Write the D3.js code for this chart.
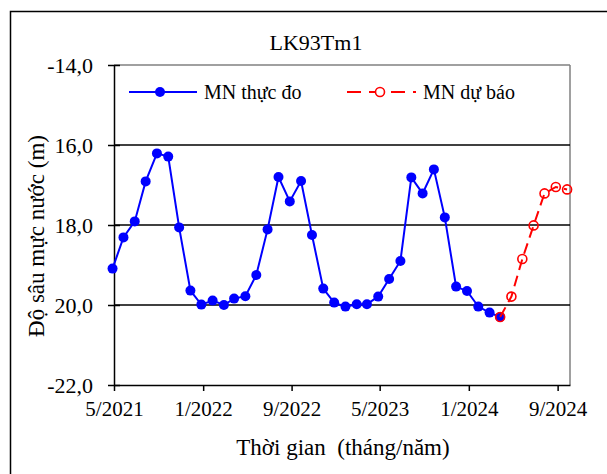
<!DOCTYPE html>
<html>
<head>
<meta charset="utf-8">
<script src="https://cdn.jsdelivr.net/npm/d3@7/dist/d3.min.js"></script>
<style>
  body { margin: 0; background: #fff; }
  svg text { font-family: "Liberation Serif", Tinos, "Times New Roman", "DejaVu Serif", serif; fill: #000; }
</style>
</head>
<body>
<svg id="chart" width="607" height="474"></svg>
<script>
var obsDates = ["2021-04-27", "2021-05-27", "2021-06-27", "2021-07-27", "2021-08-27", "2021-09-27",
    "2021-10-27", "2021-11-27", "2021-12-27", "2022-01-27", "2022-02-27", "2022-03-27",
    "2022-04-27", "2022-05-27", "2022-06-27", "2022-07-27", "2022-08-27", "2022-09-27",
    "2022-10-27", "2022-11-27", "2022-12-27", "2023-01-27", "2023-02-27", "2023-03-27",
    "2023-04-27", "2023-05-27", "2023-06-27", "2023-07-27", "2023-08-27", "2023-09-27",
    "2023-10-27", "2023-11-27", "2023-12-27", "2024-01-27", "2024-02-27", "2024-03-27"];
var obsValues = [19.09, 18.31, 17.91, 16.91, 16.21, 16.29,
    18.06, 19.64, 19.99, 19.89, 20.00, 19.84,
    19.78, 19.25, 18.11, 16.80, 17.41, 16.90,
    18.25, 19.59, 19.94, 20.04, 19.98, 19.98,
    19.79, 19.35, 18.90, 16.81, 17.21, 16.61,
    17.81, 19.54, 19.65, 20.04, 20.19, 20.30];

// forecast
var fcDates = ["2024-03-27", "2024-04-27", "2024-05-27", "2024-06-27", "2024-07-27", "2024-08-27", "2024-09-27"];
var fcValues = [20.30, 19.79, 18.85, 18.01, 17.21, 17.05, 17.11];

var yTicks = [14, 16, 18, 20, 22];
var yTickLabels = ["-14,0", "16,0", "18,0", "20,0", "-22,0"];
var xTicks = ["2021-05-01", "2022-01-01", "2022-09-01", "2023-05-01", "2024-01-01", "2024-09-01"];
var xTickLabels = ["5/2021", "1/2022", "9/2022", "5/2023", "1/2024", "9/2024"];

var serif = '"Liberation Serif", Tinos, "Times New Roman", "DejaVu Serif", serif';
var parse = d3.timeParse("%Y-%m-%d");
var svg = d3.select("#chart");

var pLeft = 114, pRight = 570, pTop = 65, pBottom = 385;

var x = d3.scaleTime().domain([parse("2021-05-01"), parse("2024-10-05")]).range([pLeft, pRight]);
var y = d3.scaleLinear().domain([14, 22]).range([pTop, pBottom]);

// outer frame
svg.append("rect").attr("x", 10.5).attr("y", 11.5).attr("width", 620).attr("height", 480)
    .attr("fill", "none").attr("stroke", "#000").attr("stroke-width", 1.5);

// plot border (gray top / right)
svg.append("line").attr("x1", pLeft).attr("x2", pRight).attr("y1", pTop).attr("y2", pTop)
    .attr("stroke", "#808080").attr("stroke-width", 1.5);
svg.append("line").attr("x1", pRight).attr("x2", pRight).attr("y1", pTop).attr("y2", pBottom)
    .attr("stroke", "#808080").attr("stroke-width", 1.5);

// gridlines
svg.selectAll(".grid").data([16, 18, 20]).enter().append("line")
    .attr("x1", pLeft).attr("x2", pRight)
    .attr("y1", function(d) { return y(d); }).attr("y2", function(d) { return y(d); })
    .attr("stroke", "#000").attr("stroke-width", 1.5);

// y axis
var yAxis = d3.axisLeft(y).tickValues(yTicks).tickSizeInner(6).tickSizeOuter(0)
    .tickFormat(function(d, i) { return yTickLabels[i]; });
var gy = svg.append("g").attr("transform", "translate(" + pLeft + ",0)").call(yAxis);
gy.attr("font-family", serif);
gy.select(".domain").attr("stroke", "#000").attr("stroke-width", 1.5);
gy.selectAll(".tick line").attr("x2", -6).attr("x1", 6).attr("stroke", "#000").attr("stroke-width", 1.5);
gy.selectAll(".tick text").attr("x", -21).attr("font-size", "22px").style("font-family", serif);

// x axis
var xAxis = d3.axisBottom(x).tickValues(xTicks.map(parse)).tickSizeInner(6).tickSizeOuter(0)
    .tickFormat(function(d, i) { return xTickLabels[i]; });
var gx = svg.append("g").attr("transform", "translate(0," + pBottom + ")").call(xAxis);
gx.attr("font-family", serif);
gx.select(".domain").attr("stroke", "#000").attr("stroke-width", 1.5);
gx.selectAll(".tick line").attr("stroke", "#000").attr("stroke-width", 1.5);
gx.selectAll(".tick text").attr("y", 16).attr("font-size", "21px").style("font-family", serif);

// lines
var line = d3.line()
    .x(function(d) { return x(d.date); })
    .y(function(d) { return y(d.value); });

var obs = obsDates.map(function(d, i) { return { date: parse(d), value: obsValues[i] }; });
var fc = fcDates.map(function(d, i) { return { date: parse(d), value: fcValues[i] }; });

svg.append("path").datum(obs).attr("d", line)
    .attr("fill", "none").attr("stroke", "#0000ff").attr("stroke-width", 2);
svg.selectAll(".obs").data(obs).enter().append("circle")
    .attr("cx", function(d) { return x(d.date); }).attr("cy", function(d) { return y(d.value); })
    .attr("r", 5).attr("fill", "#0000ff");

svg.append("path").datum(fc).attr("d", line)
    .attr("fill", "none").attr("stroke", "#ff0000").attr("stroke-width", 2)
    .attr("stroke-dasharray", "11,6");
svg.selectAll(".fc").data(fc).enter().append("circle")
    .attr("cx", function(d) { return x(d.date); }).attr("cy", function(d) { return y(d.value); })
    .attr("r", 4.5).attr("fill", "none").attr("stroke", "#ff0000").attr("stroke-width", 1.6);

// legend
var ly = 92;
svg.append("line").attr("x1", 129).attr("x2", 197).attr("y1", ly).attr("y2", ly)
    .attr("stroke", "#0000ff").attr("stroke-width", 2);
svg.append("circle").attr("cx", 160).attr("cy", ly).attr("r", 5).attr("fill", "#0000ff");
svg.append("text").attr("x", 204).attr("y", ly + 7).attr("font-size", "20px")
    .style("font-family", serif).text("MN thực đo");

svg.append("line").attr("x1", 347).attr("x2", 416).attr("y1", ly).attr("y2", ly)
    .attr("stroke", "#ff0000").attr("stroke-width", 2).attr("stroke-dasharray", "14,8");
svg.append("circle").attr("cx", 380).attr("cy", ly).attr("r", 4.5)
    .attr("fill", "#fff").attr("stroke", "#ff0000").attr("stroke-width", 1.6);
svg.append("text").attr("x", 423).attr("y", ly + 7).attr("font-size", "20px")
    .style("font-family", serif).text("MN dự báo");

// titles
svg.append("text").attr("x", 316).attr("y", 50).attr("text-anchor", "middle")
    .attr("font-size", "22px").style("font-family", serif).text("LK93Tm1");
svg.append("text").attr("x", 343).attr("y", 455).attr("text-anchor", "middle")
    .attr("font-size", "23px").style("font-family", serif).style("white-space", "pre")
    .text("Thời gian  (tháng/năm)");
svg.append("text").attr("transform", "translate(44,236) rotate(-90)").attr("text-anchor", "middle")
    .attr("font-size", "23px").style("font-family", serif).text("Độ sâu mực nước (m)");
</script>
</body>
</html>
